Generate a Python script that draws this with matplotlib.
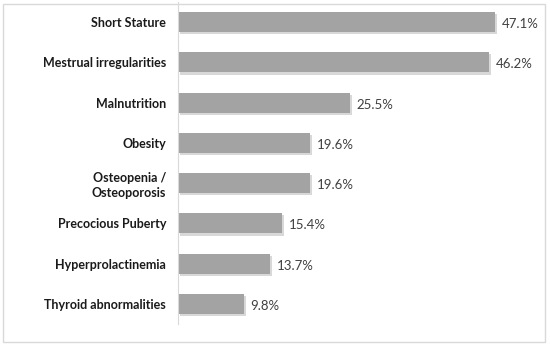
import matplotlib.pyplot as plt
import matplotlib.patheffects as pe
from matplotlib.patches import Rectangle

categories = ["Short Stature", "Mestrual irregularities", "Malnutrition", "Obesity",
              "Osteopenia /\nOsteoporosis", "Precocious Puberty", "Hyperprolactinemia",
              "Thyroid abnormalities"]
values = [47.1, 46.2, 25.5, 19.6, 19.6, 15.4, 13.7, 9.8]
value_labels = ["47.1%", "46.2%", "25.5%", "19.6%", "19.6%", "15.4%", "13.7%", "9.8%"]

W, H = 550, 346
fig = plt.figure(figsize=(W / 100, H / 100), dpi=100)
fig.patch.set_facecolor("white")

# outer border
fig.add_artist(Rectangle((3 / W, 4 / H), 542 / W, 338 / H, transform=fig.transFigure,
                         fill=False, edgecolor="#d9d9d9", linewidth=1))

ax = fig.add_axes([178 / W, (H - 324) / H, (540 - 178) / W, 322 / H])
y = list(range(len(categories)))
bars = ax.barh(y, values, height=0.5, color="#a3a3a3", edgecolor="none")
for b in bars:
    b.set_path_effects([pe.SimplePatchShadow(offset=(1.5, -1.5), shadow_rgbFace="#bfbfbf", alpha=0.6),
                        pe.Normal()])

ax.set_xlim(0, (540 - 178) / 6.73)
ax.set_ylim(len(categories) - 0.5, -0.5)
ax.set_yticks(y)
ax.set_yticklabels(categories, fontsize=9, fontweight="bold", family="Lato",
                   color="#1a1a1a", linespacing=1.3)
ax.tick_params(axis="y", length=0, pad=8.5)
ax.set_xticks([])
for s in ["top", "right", "bottom"]:
    ax.spines[s].set_visible(False)
ax.spines["left"].set_color("#d9d9d9")

for yi, v, lab in zip(y, values, value_labels):
    ax.text(v + 1.0, yi + 0.05, lab, va="center", ha="left", fontsize=9.5,
            family="Lato", color="#404040")

fig.savefig("out.png", dpi=100)
